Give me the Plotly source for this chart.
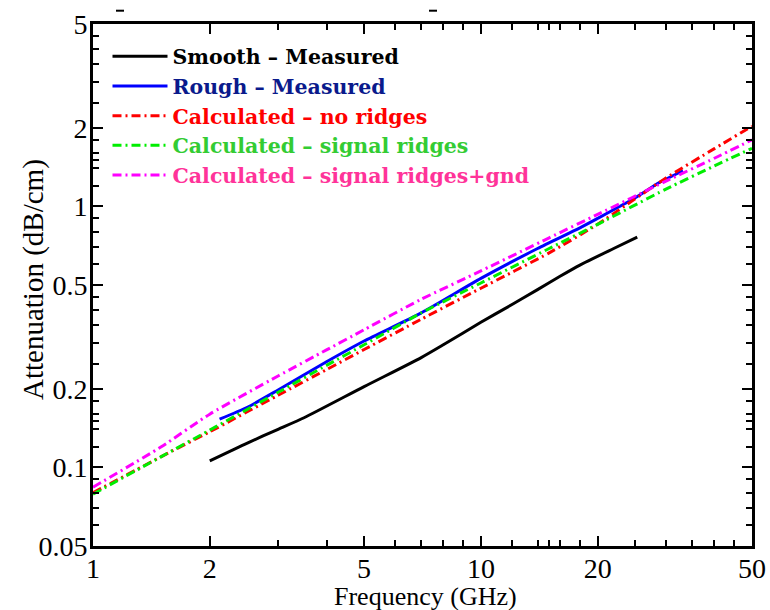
import plotly.graph_objects as go

# ---- data ----
smooth_f = [2.0, 2.5, 3.0, 3.5, 5.0, 7.0, 8.0, 10.0, 12.0, 14.0, 16.0, 18.0, 22.0, 25.3]
smooth_a = [0.106, 0.124, 0.140, 0.155, 0.204, 0.263, 0.295, 0.360, 0.420, 0.480, 0.540, 0.596, 0.690, 0.763]

rough_f = [2.12, 2.5, 3.0, 4.0, 5.0, 7.0, 10.0, 14.0, 18.0, 20.0, 25.0, 29.0, 33.2]
rough_a = [0.153, 0.170, 0.198, 0.254, 0.305, 0.390, 0.530, 0.690, 0.828, 0.900, 1.080, 1.240, 1.370]

calc_f = [1, 1.5, 2, 3, 4, 5, 7, 10, 15, 20, 30, 40, 50]
noridge_a = [0.080, 0.110, 0.137, 0.189, 0.237, 0.283, 0.369, 0.486, 0.664, 0.855, 1.285, 1.665, 2.03]
signal_a = [0.079, 0.110, 0.139, 0.194, 0.246, 0.295, 0.390, 0.509, 0.690, 0.854, 1.165, 1.430, 1.67]
gnd_a = [0.084, 0.120, 0.160, 0.224, 0.282, 0.337, 0.440, 0.566, 0.758, 0.932, 1.250, 1.530, 1.80]

x_major = [1, 2, 5, 10, 20, 50]
x_minor = [3, 4, 6, 7, 8, 9, 12, 14, 15, 16, 18, 25, 30, 35, 40, 45]
y_major = [0.05, 0.1, 0.2, 0.5, 1, 2, 5]
y_labels = ["0.05", "0.1", "0.2", "0.5", "1", "2", "5"]
y_minor = [0.06, 0.07, 0.08, 0.09, 0.12, 0.14, 0.15, 0.16, 0.18,
           0.25, 0.3, 0.35, 0.4, 0.45, 0.6, 0.7, 0.8, 0.9,
           1.2, 1.4, 1.5, 1.6, 1.8, 2.5, 3, 3.5, 4, 4.5]

names = ["Smooth \u2013 Measured", "Rough \u2013 Measured", "Calculated \u2013 no ridges",
         "Calculated \u2013 signal ridges", "Calculated \u2013 signal ridges+gnd"]
text_colors = ["#000000", "#0a1a8c", "#ff0000", "#33cc33", "#ff3399"]
line_colors = ["#000000", "#0000ff", "#ff0000", "#00ee00", "#ff00ff"]

DASHDOT = "9px,4px,2px,4px"
SERIF = "Liberation Serif, Times New Roman, serif"

fig = go.Figure()
series = [
    (smooth_f, smooth_a, "solid"),
    (rough_f, rough_a, "solid"),
    (calc_f, noridge_a, DASHDOT),
    (calc_f, signal_a, DASHDOT),
    (calc_f, gnd_a, DASHDOT),
]
for i, (fx, ay, dash) in enumerate(series):
    fig.add_trace(go.Scatter(
        x=fx, y=ay, mode="lines",
        line=dict(color=line_colors[i], width=3, dash=dash, shape="spline", smoothing=0.6),
        name='<span style="color:%s"><b>%s</b></span>' % (text_colors[i], names[i]),
    ))

# invisible helper trace so the minor-tick overlay axes are drawn
fig.add_trace(go.Scatter(x=calc_f[:1], y=gnd_a[:1], xaxis="x2", yaxis="y2", mode="markers",
                         marker=dict(opacity=0), showlegend=False, hoverinfo="skip"))

tick_font = dict(family=SERIF, size=28, color="black")
XR = [0, 1.69897]
YR = [-1.30103, 0.69897]

common = dict(type="log", ticks="inside", tickcolor="black", tickwidth=2,
              showline=True, linewidth=3, linecolor="black", mirror="allticks",
              showgrid=False, zeroline=False, automargin=False)

fig.update_layout(
    xaxis=dict(range=XR, tickmode="array", tickvals=x_major, ticktext=[str(v) for v in x_major],
               ticklen=10, tickfont=tick_font, ticklabelstandoff=-5, **common),
    yaxis=dict(range=YR, tickmode="array", tickvals=y_major, ticktext=y_labels,
               ticklen=10, tickfont=tick_font, ticklabelstandoff=-3, **common),
    xaxis2=dict(range=XR, tickmode="array", tickvals=x_minor, ticklen=6, overlaying="x",
                anchor="y2", showticklabels=False, **common),
    yaxis2=dict(range=YR, tickmode="array", tickvals=y_minor, ticklen=6, overlaying="y",
                anchor="x2", showticklabels=False, **common),
)

fig.update_layout(
    width=770, height=610,
    margin=dict(l=93, r=18, t=24, b=64, autoexpand=False),
    paper_bgcolor="white", plot_bgcolor="white",
    legend=dict(
        x=0.022, y=0.976, xanchor="left", yanchor="top",
        bgcolor="rgba(0,0,0,0)", borderwidth=0,
        font=dict(family="DejaVu Serif, Liberation Serif, serif", size=20.5),
        tracegroupgap=0, itemwidth=55,
    ),
    showlegend=True,
    annotations=[
        dict(text="Attenuation (dB/cm)", xref="paper", yref="paper",
             x=(33 - 93) / 659, y=(546 - 280) / 522, xanchor="center", yanchor="middle",
             textangle=-90, showarrow=False, font=dict(family=SERIF, size=29, color="black")),
        dict(text="Frequency (GHz)", xref="paper", yref="paper",
             x=(425 - 93) / 659, y=(546 - 596) / 522, xanchor="center", yanchor="middle",
             showarrow=False, font=dict(family=SERIF, size=26, color="black")),
    ],
    shapes=[
        dict(type="line", xref="paper", yref="paper", x0=(116 - 93) / 659, x1=(124 - 93) / 659,
             y0=(546 - 10.7) / 522, y1=(546 - 10.7) / 522, line=dict(color="black", width=2)),
        dict(type="line", xref="paper", yref="paper", x0=(429 - 93) / 659, x1=(437 - 93) / 659,
             y0=(546 - 10.7) / 522, y1=(546 - 10.7) / 522, line=dict(color="black", width=2)),
    ],
)

fig.write_html("out.html")
